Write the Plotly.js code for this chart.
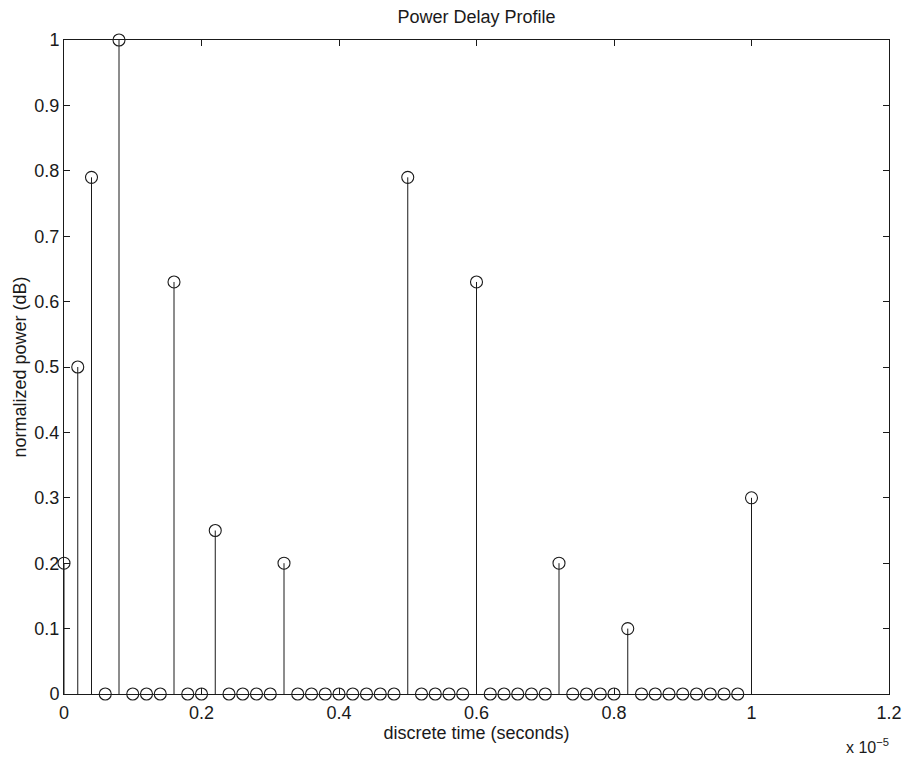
<!DOCTYPE html>
<html>
<head>
<meta charset="utf-8">
<script src="https://cdn.plot.ly/plotly-3.0.1.min.js"></script>
<style>
  html, body { margin: 0; padding: 0; background: #ffffff; }
  #plot { width: 908px; height: 757px; }
</style>
</head>
<body>
<div id="plot"></div>
<script>
// Discrete delay taps (seconds), 0.2 microsecond spacing
const delays = [
  0.0e-6, 0.2e-6, 0.4e-6, 0.6e-6, 0.8e-6, 1.0e-6, 1.2e-6, 1.4e-6, 1.6e-6, 1.8e-6,
  2.0e-6, 2.2e-6, 2.4e-6, 2.6e-6, 2.8e-6, 3.0e-6, 3.2e-6, 3.4e-6, 3.6e-6, 3.8e-6,
  4.0e-6, 4.2e-6, 4.4e-6, 4.6e-6, 4.8e-6, 5.0e-6, 5.2e-6, 5.4e-6, 5.6e-6, 5.8e-6,
  6.0e-6, 6.2e-6, 6.4e-6, 6.6e-6, 6.8e-6, 7.0e-6, 7.2e-6, 7.4e-6, 7.6e-6, 7.8e-6,
  8.0e-6, 8.2e-6, 8.4e-6, 8.6e-6, 8.8e-6, 9.0e-6, 9.2e-6, 9.4e-6, 9.6e-6, 9.8e-6,
  10.0e-6
];

// Normalized power at each tap
const power = [
  0.2, 0.5, 0.79, 0, 1, 0, 0, 0, 0.63, 0,
  0, 0.25, 0, 0, 0, 0, 0.2, 0, 0, 0,
  0, 0, 0, 0, 0, 0.79, 0, 0, 0, 0,
  0.63, 0, 0, 0, 0, 0, 0.2, 0, 0, 0,
  0, 0.1, 0, 0, 0, 0, 0, 0, 0, 0,
  0.3
];

// Axis ticks
const xTickVals = [0, 2e-6, 4e-6, 6e-6, 8e-6, 10e-6, 12e-6];
const xTickText = ['0', '0.2', '0.4', '0.6', '0.8', '1', '1.2'];
const yTickVals = [0, 0.1, 0.2, 0.3, 0.4, 0.5, 0.6, 0.7, 0.8, 0.9, 1];
const yTickText = ['0', '0.1', '0.2', '0.3', '0.4', '0.5', '0.6', '0.7', '0.8', '0.9', '1'];

// Stems: vertical segments from zero up to each value, separated by gaps
const stemX = [];
const stemY = [];
delays.forEach((t, i) => {
  stemX.push(t, t, null);
  stemY.push(0, power[i], null);
});

const font = 'Liberation Sans, Arial, Helvetica, sans-serif';
const ink = '#1a1a1a';

const traces = [
  {
    x: stemX, y: stemY,
    type: 'scatter', mode: 'lines',
    line: { color: ink, width: 1 },
    hoverinfo: 'skip', showlegend: false, cliponaxis: false
  },
  {
    x: delays, y: power,
    type: 'scatter', mode: 'markers',
    marker: { symbol: 'circle-open', size: 12, color: ink, line: { width: 1.1, color: ink } },
    showlegend: false, cliponaxis: false
  }
];

const layout = {
  width: 908, height: 757,
  margin: { l: 64, r: 19, t: 40, b: 63 },
  paper_bgcolor: '#ffffff', plot_bgcolor: '#ffffff',
  font: { family: font, size: 18, color: ink },
  title: {
    text: 'Power Delay Profile',
    font: { family: font, size: 18, color: ink },
    x: 0.5, xref: 'paper', xanchor: 'center',
    y: 1, yref: 'container', yanchor: 'top', pad: { t: 10 }
  },
  xaxis: {
    range: [0, 12e-6],
    tickmode: 'array', tickvals: xTickVals, ticktext: xTickText,
    ticks: 'inside', ticklen: 6, tickwidth: 1, tickcolor: ink,
    ticklabelstandoff: 2,
    showline: true, linecolor: ink, linewidth: 1, mirror: 'ticks',
    showgrid: false, zeroline: false,
    tickfont: { family: font, size: 18, color: ink },
    title: { text: 'discrete time (seconds)', font: { family: font, size: 18, color: ink }, standoff: 3 }
  },
  yaxis: {
    range: [0, 1],
    tickmode: 'array', tickvals: yTickVals, ticktext: yTickText,
    ticks: 'inside', ticklen: 6, tickwidth: 1, tickcolor: ink,
    showline: true, linecolor: ink, linewidth: 1, mirror: 'ticks',
    showgrid: false, zeroline: false,
    tickfont: { family: font, size: 18, color: ink },
    title: { text: 'normalized power (dB)', font: { family: font, size: 18, color: ink }, standoff: 3 }
  },
  annotations: [
    {
      text: 'x 10<sup>\u22125</sup>',
      xref: 'paper', yref: 'paper', x: 1, y: 0,
      xanchor: 'right', yanchor: 'top', yshift: -40, xshift: 2,
      showarrow: false,
      font: { family: font, size: 16, color: ink }
    }
  ]
};

Plotly.newPlot('plot', traces, layout, { displayModeBar: false, staticPlot: true });
</script>
</body>
</html>
